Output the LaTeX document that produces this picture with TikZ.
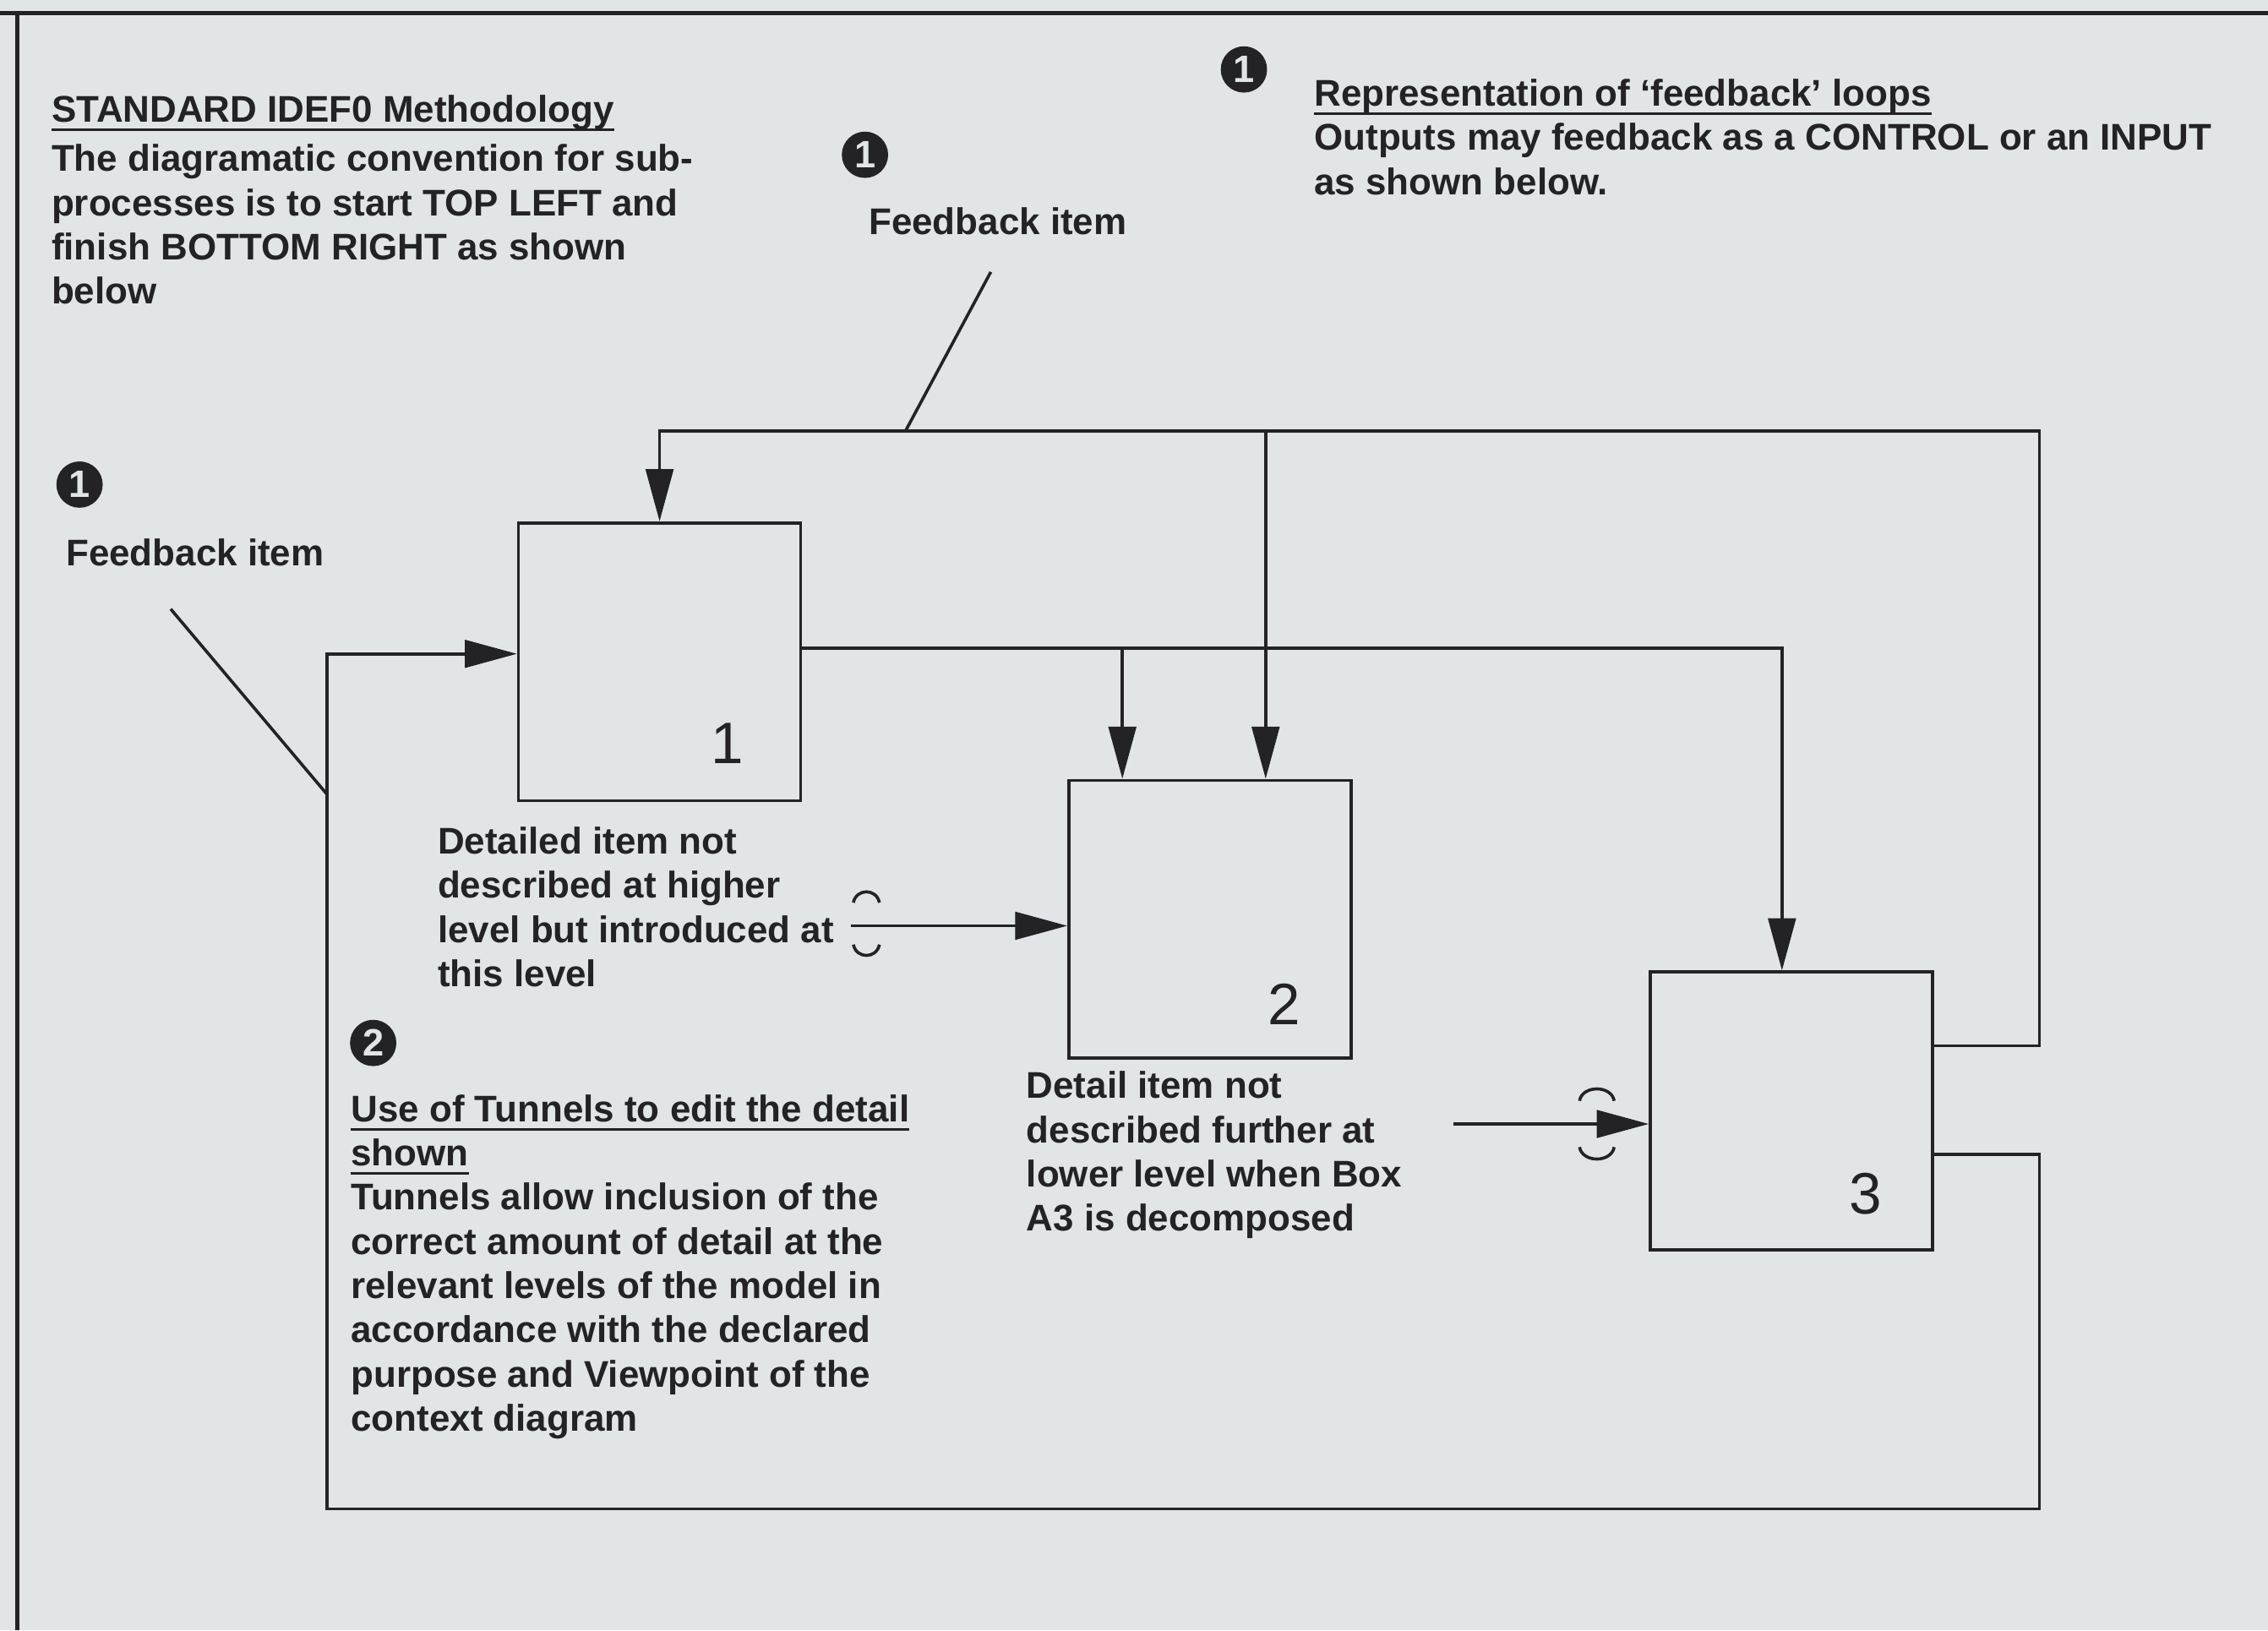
\documentclass[tikz,border=0pt]{standalone}
\usepackage{fontspec}
\setmainfont{Liberation Sans}
\usetikzlibrary{arrows.meta}
\definecolor{paper}{RGB}{226,229,231}
\definecolor{ink}{RGB}{35,35,38}
\newcommand{\tb}{\fontsize{7.3}{8.7}\selectfont\bfseries}
\newcommand{\ul}[1]{\setbox0\hbox{#1}\rlap{\rule[-1.8pt]{\wd0}{0.55pt}}\box0}

\begin{document}
\begin{tikzpicture}[x=0.01cm,y=-0.01cm]
	\tikzstyle{blk} = [draw=ink, line width=0.6pt, minimum width=1.95cm, minimum height=1.92cm, inner sep=0pt]
	\tikzstyle{txt} = [anchor=north west, inner sep=0pt, align=left, text=ink, font=\tb]
	\tikzstyle{dot} = [circle, fill=ink, text=paper, inner sep=0pt, minimum size=0.32cm, font=\fontsize{7.5}{8}\selectfont\bfseries]
	\tikzstyle{num} = [inner sep=0pt, text=ink, font=\fontsize{11.5}{12}\selectfont]
	\tikzstyle{ln} = [draw=ink, line width=0.6pt]
	\tikzstyle{arr} = [ln, -{Triangle[length=0.36cm,width=0.19cm]}]

	\useasboundingbox (0,0) rectangle (1568,1127);
	\fill [paper] (0,0) rectangle (1568,1127);
	\draw [ink, line width=0.9pt] (0,9) -- (1568,9);
	\draw [ink, line width=0.9pt] (12,9) -- (12,1127);

	\node [blk] (b1) at (456,457.5) {};
	\node [blk] (b2) at (836.5,635.5) {};
	\node [blk] (b3) at (1238.5,768) {};
	\node [num] (n1) at (503,514) {1};
	\node [num] (n2) at (888,694) {2};
	\node [num] (n3) at (1290,825) {3};

	\node [dot] (c1) at (55,335) {1};
	\node [dot] (c2) at (598,107) {1};
	\node [dot] (c3) at (860,48) {1};
	\node [dot] (c4) at (258,721) {2};

	\node [txt] (head) at (35,65) {\ul{STANDARD IDEF0 Methodology}\\[1pt]The diagramatic convention for sub-\\processes is to start TOP LEFT and\\finish BOTTOM RIGHT as shown\\below};
	\node [txt] (loops) at (908,54) {\ul{Representation of `feedback' loops}\\Outputs may feedback as a CONTROL or an INPUT\\as shown below.};
	\node [txt] (fb1) at (45,372) {Feedback item};
	\node [txt] (fb2) at (600,143) {Feedback item};
	\node [txt] (det1) at (302,571) {Detailed item not\\described at higher\\level but introduced at\\this level};
	\node [txt] (tun) at (242,756) {\ul{Use of Tunnels to edit the detail}\\\ul{shown}\\Tunnels allow inclusion of the\\correct amount of detail at the\\relevant levels of the model in\\accordance with the declared\\purpose and Viewpoint of the\\context diagram};
	\node [txt] (det2) at (709,740) {Detail item not\\described further at\\lower level when Box\\A3 is decomposed};

	\coordinate (fbtop) at (1410,298);
	\coordinate (fbbot) at (1410,1043);
	\coordinate (fbleft) at (226,1043);
	\coordinate (o1) at ([yshift=0.095cm]b1.east);
	\coordinate (in2) at (588,640);
	\coordinate (in3) at (1005,777);
	\coordinate (p1) at (118,421);
	\coordinate (q1) at (226,549);
	\coordinate (p2) at (685,188);
	\coordinate (q2) at (626,298);

	\draw [arr] ([yshift=0.45cm]b3.east) -| (fbtop) -| (b1.north);
	\draw [arr] ([xshift=0.385cm]b2.north |- fbtop) -- ([xshift=0.385cm]b2.north);
	\draw [arr] (o1) -| ([xshift=-0.065cm]b3.north);
	\draw [arr] ([xshift=-0.605cm]b2.north |- o1) -- ([xshift=-0.605cm]b2.north);
	\draw [arr] ([yshift=-0.3cm]b3.east) -| (fbbot) -- (fbleft) |- ([yshift=0.055cm]b1.west);

	\draw [arr] (in2) -- (in2 -| b2.west);
	\draw [arr] (in3) -- (in3 -| b3.west);
	\draw [ln] (590,624) .. controls (592,614) and (606,614) .. (608,624);
	\draw [ln] (590,653) .. controls (592,663) and (606,663) .. (608,653);
	\draw [ln] (1092,761) .. controls (1094,750) and (1114,750) .. (1116,761);
	\draw [ln] (1092,793) .. controls (1094,804) and (1114,804) .. (1116,793);

	\draw [ln] (p1) -- (q1);
	\draw [ln] (p2) -- (q2);
\end{tikzpicture}
\end{document}
